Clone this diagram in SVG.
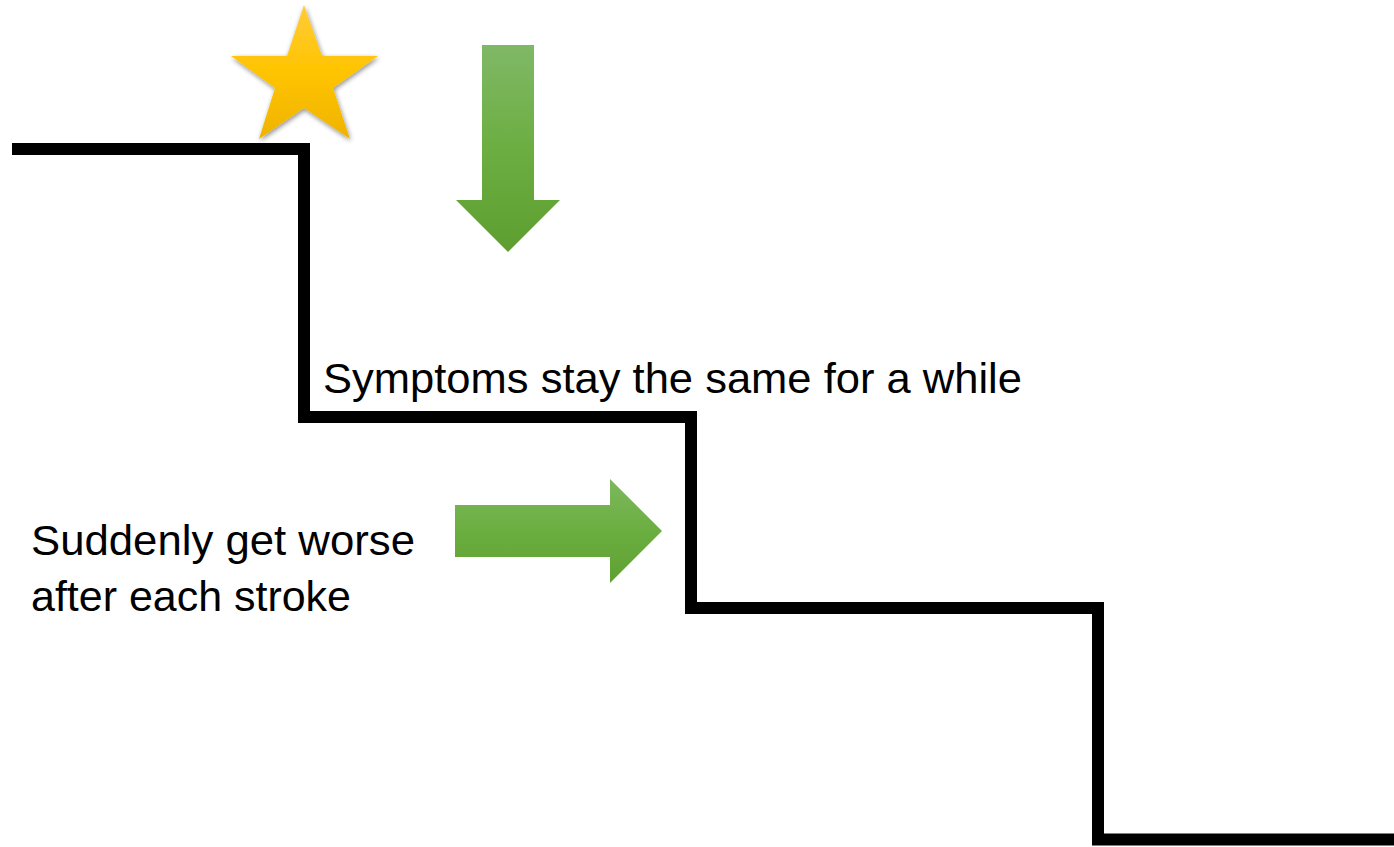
<svg xmlns="http://www.w3.org/2000/svg" width="1394" height="847" viewBox="0 0 1394 847">
<defs>
<style>
.step{fill:none;stroke:#000;stroke-width:12;stroke-linejoin:miter;stroke-linecap:butt}
.lbl{font-family:"Liberation Sans","Open Sans",Arial,sans-serif;font-size:43px;fill:#000}
</style>
<linearGradient id="gStar" x1="0" y1="0" x2="0" y2="1">
<stop offset="0" stop-color="#FFCB3A"/>
<stop offset="0.5" stop-color="#FFC400"/>
<stop offset="1" stop-color="#EFB300"/>
</linearGradient>
<linearGradient id="gDown" x1="0" y1="0" x2="0" y2="1">
<stop offset="0" stop-color="#80B866"/>
<stop offset="0.5" stop-color="#6CAE42"/>
<stop offset="1" stop-color="#5E9E30"/>
</linearGradient>
<linearGradient id="gRight" x1="0" y1="0" x2="0" y2="1">
<stop offset="0" stop-color="#7DB85E"/>
<stop offset="0.5" stop-color="#6BAE40"/>
<stop offset="1" stop-color="#5FA032"/>
</linearGradient>
<filter id="shadow" x="-20%" y="-20%" width="140%" height="140%">
<feGaussianBlur in="SourceAlpha" stdDeviation="2.5"/>
<feOffset dx="1" dy="2" result="b"/>
<feComponentTransfer><feFuncA type="linear" slope="0.45"/></feComponentTransfer>
<feMerge><feMergeNode/><feMergeNode in="SourceGraphic"/></feMerge>
</filter>
</defs>
<rect width="1394" height="847" fill="#fff"/>
<g id="connectors">
<polyline class="step" points="12,149 304,149 304,417 691,417 691,608 1098,608 1098,839.5 1394,839.5"/>
</g>
<g id="star">
<polygon filter="url(#shadow)" fill="url(#gStar)" points="304,5 287,56 231,56 275,88 259,139 304,108 350,139 333,88 378,56 322,56"/>
</g>
<g id="arrow-down">
<polygon fill="url(#gDown)" points="482,45 534,45 534,200 560,200 508,252 456,200 482,200"/>
</g>
<g id="arrow-right">
<polygon fill="url(#gRight)" points="455,505 610,505 610,479 662,531 610,583 610,557 455,557"/>
</g>
<g id="label-same">
<text class="lbl" x="323" y="393" textLength="699" lengthAdjust="spacingAndGlyphs">Symptoms stay the same for a while</text>
</g>
<g id="label-worse">
<text class="lbl" x="31" y="555" textLength="384" lengthAdjust="spacingAndGlyphs">Suddenly get worse</text>
<text class="lbl" x="31" y="611" textLength="320" lengthAdjust="spacingAndGlyphs">after each stroke</text>
</g>
</svg>
